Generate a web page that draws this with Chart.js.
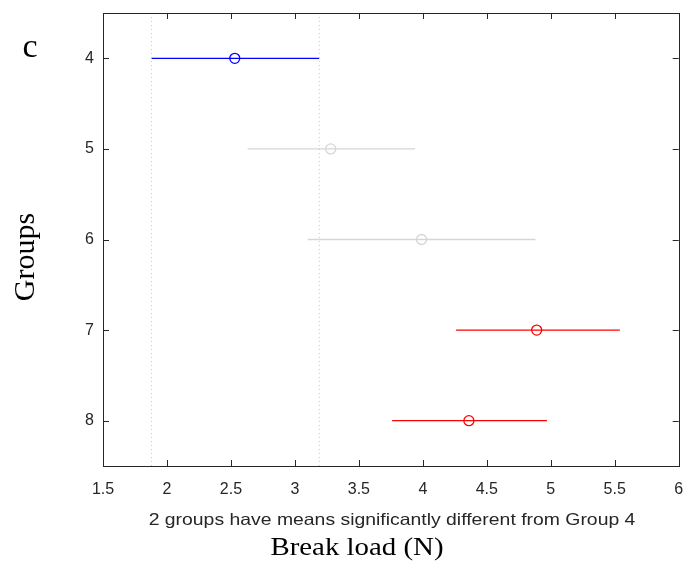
<!DOCTYPE html>
<html>
<head>
<meta charset="utf-8">
<script src="https://cdn.jsdelivr.net/npm/chart.js@4.4.1/dist/chart.umd.min.js"></script>
<style>
  html, body { margin: 0; padding: 0; background: #ffffff; }
  #wrap { width: 685px; height: 563px; }
</style>
</head>
<body>
<div id="wrap"><canvas id="chart" width="685" height="563"></canvas></div>
<script>
const groups = [4, 5, 6, 7, 8];
const groupMeans = [2.53, 3.28, 3.99, 4.89, 4.36];
const groupLower = [1.88, 2.63, 3.10, 4.26, 3.76];
const groupUpper = [3.19, 3.94, 4.88, 5.54, 4.97];
const groupColors = ["#0000ff", "#d6d6d6", "#d6d6d6", "#ff0000", "#ff0000"];
const xTicks = [1.5, 2, 2.5, 3, 3.5, 4, 4.5, 5, 5.5, 6];
const refGroupIndex = 0;

const axisColor = "#262626";
const subtitleText = "2 groups have means significantly different from Group 4";

function buildDatasets() {
  const sets = [];
  const yMin = groups[0] - 0.5;
  const yMax = groups[groups.length - 1] + 0.5;

  // dotted reference lines at the bounds of group 4
  [groupLower[refGroupIndex], groupUpper[refGroupIndex]].forEach(v => {
    sets.push({
      data: [{ x: v, y: yMin }, { x: v, y: yMax }],
      showLine: true,
      borderColor: "#c4c4c4",
      borderWidth: 1,
      borderDash: [1, 3],
      pointRadius: 0
    });
  });

  groups.forEach((g, i) => {
    sets.push({
      data: [{ x: groupLower[i], y: g }, { x: groupUpper[i], y: g }],
      showLine: true,
      borderColor: groupColors[i],
      borderWidth: 1.3,
      pointRadius: 0
    });
  });

  sets.push({
    data: groups.map((g, i) => ({ x: groupMeans[i], y: g })),
    showLine: false,
    pointStyle: "circle",
    pointRadius: 5,
    pointBorderWidth: 1.3,
    pointBorderColor: groupColors,
    pointBackgroundColor: "rgba(0,0,0,0)"
  });

  return sets;
}

function drawStretched(ctx, text, x, y, font, sx) {
  ctx.save();
  ctx.translate(x, y);
  ctx.scale(sx, 1);
  ctx.font = font;
  ctx.fillText(text, 0, 0);
  ctx.restore();
}

const boxPlugin = {
  id: "matlabBox",
  afterDatasetsDraw(chart) {
    const { ctx, chartArea, scales } = chart;
    const { left, right, top, bottom } = chartArea;
    const len = 6;
    ctx.save();
    ctx.strokeStyle = axisColor;
    ctx.lineWidth = 1;
    ctx.beginPath();
    xTicks.forEach(t => {
      const px = Math.round(scales.x.getPixelForValue(t)) + 0.5;
      ctx.moveTo(px, bottom);
      ctx.lineTo(px, bottom - len);
      ctx.moveTo(px, top);
      ctx.lineTo(px, top + len);
    });
    groups.forEach(g => {
      const py = Math.round(scales.y.getPixelForValue(g)) + 0.5;
      ctx.moveTo(left, py);
      ctx.lineTo(left + len, py);
      ctx.moveTo(right, py);
      ctx.lineTo(right - len, py);
    });
    ctx.stroke();
    ctx.strokeRect(Math.round(left) + 0.5, Math.round(top) + 0.5, Math.round(right - left), Math.round(bottom - top));
    ctx.restore();
  },
  afterDraw(chart) {
    const { ctx } = chart;
    ctx.save();
    ctx.fillStyle = "#000000";
    ctx.textAlign = "center";
    ctx.textBaseline = "alphabetic";

    ctx.font = "34px 'Liberation Serif', 'Times New Roman', serif";
    ctx.fillText("c", 30, 57);

    drawStretched(ctx, "Break load (N)", 357, 555, "25px 'Liberation Serif', 'Times New Roman', serif", 1.155);

    ctx.fillStyle = axisColor;
    drawStretched(ctx, subtitleText, 392, 525, "16.5px 'Liberation Sans', Arial, sans-serif", 1.175);

    ctx.fillStyle = "#000000";
    ctx.translate(34, 257);
    ctx.rotate(-Math.PI / 2);
    ctx.font = "30px 'Liberation Serif', 'Times New Roman', serif";
    ctx.fillText("Groups", 0, 0);
    ctx.restore();
  }
};

const noEdgePadding = scale => {
  scale.paddingLeft = 0;
  scale.paddingRight = 0;
  scale.paddingTop = 0;
  scale.paddingBottom = 0;
};

new Chart(document.getElementById("chart"), {
  type: "scatter",
  data: { datasets: buildDatasets() },
  options: {
    responsive: false,
    animation: false,
    devicePixelRatio: 1,
    layout: { padding: { top: 13, right: 5, left: 0, bottom: 0 } },
    plugins: {
      legend: { display: false },
      tooltip: { enabled: false }
    },
    scales: {
      x: {
        type: "linear",
        min: xTicks[0],
        max: xTicks[xTicks.length - 1],
        afterBuildTicks: scale => { scale.ticks = xTicks.map(v => ({ value: v })); },
        afterFit: scale => { scale.height = 97; noEdgePadding(scale); },
        grid: { display: false, drawTicks: false },
        border: { display: false },
        ticks: {
          color: axisColor,
          padding: 14,
          maxRotation: 0,
          autoSkip: false,
          callback: v => String(v),
          font: { family: "'Liberation Sans', Arial, sans-serif", size: 16 }
        }
      },
      y: {
        type: "linear",
        reverse: true,
        min: groups[0] - 0.5,
        max: groups[groups.length - 1] + 0.5,
        afterBuildTicks: scale => { scale.ticks = groups.map(v => ({ value: v })); },
        afterFit: scale => { scale.width = 103; noEdgePadding(scale); },
        grid: { display: false, drawTicks: false },
        border: { display: false },
        ticks: {
          color: axisColor,
          padding: 9,
          autoSkip: false,
          callback: v => String(v),
          font: { family: "'Liberation Sans', Arial, sans-serif", size: 16 }
        }
      }
    }
  },
  plugins: [boxPlugin]
});
</script>
</body>
</html>
